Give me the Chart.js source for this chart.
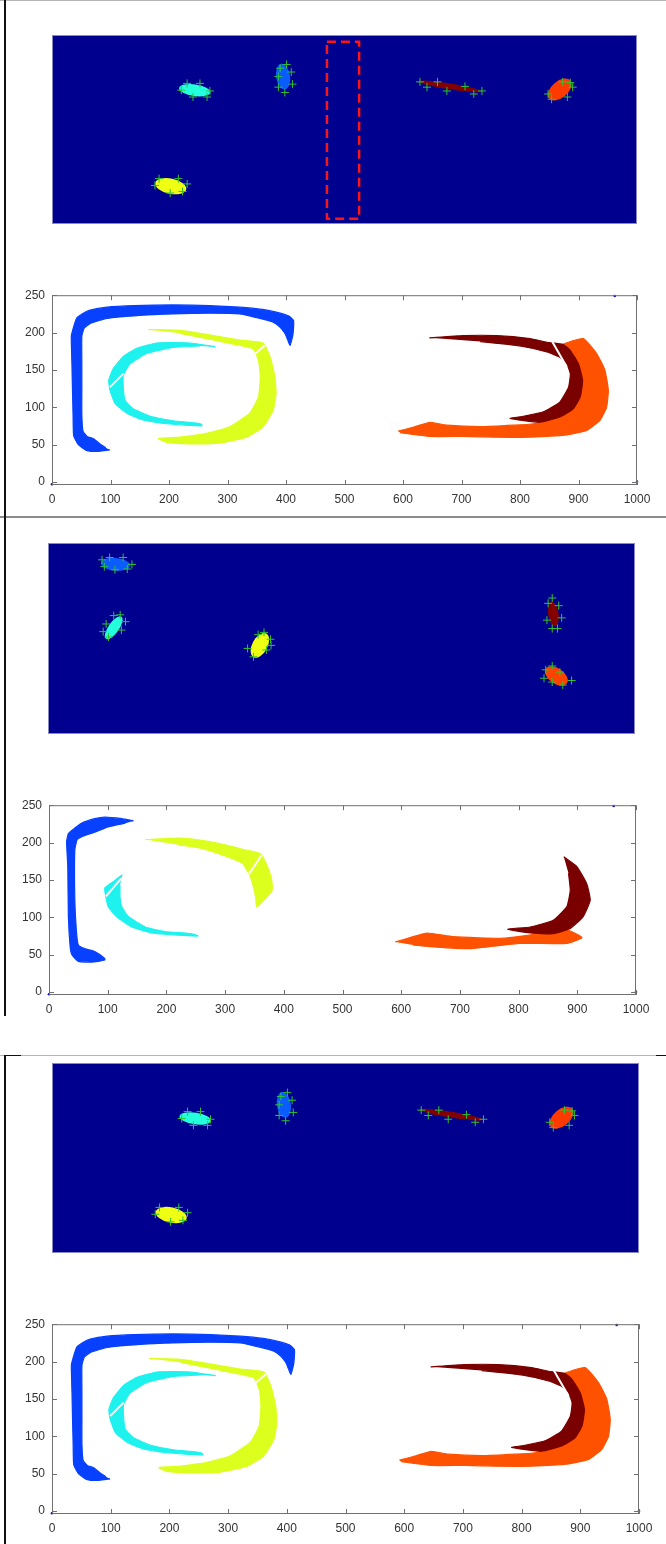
<!DOCTYPE html>
<html>
<head>
<meta charset="utf-8">
<script src="https://cdn.jsdelivr.net/npm/chart.js@4.4.0/dist/chart.umd.min.js"></script>
<style>
  html, body { margin: 0; padding: 0; background: #fff; }
  body { width: 666px; height: 1544px; position: relative; overflow: hidden; }
  .pane { position: absolute; }
  .rule { position: absolute; }
</style>
</head>
<body>
<!-- slide frames -->
<div class="rule" style="left:0;top:0;width:666px;height:1px;background:#b4b4b4"></div>
<div class="rule" style="left:4px;top:0;width:2px;height:517px;background:#111"></div>
<div class="rule" style="left:0;top:516px;width:666px;height:2px;background:#8c8c8c"></div>
<div class="rule" style="left:4px;top:516px;width:2px;height:500px;background:#111"></div>
<div class="rule" style="left:0;top:1055px;width:666px;height:1px;background:#b4b4b4"></div>
<div class="rule" style="left:4px;top:1055px;width:17px;height:1px;background:#111"></div>
<div class="rule" style="left:656px;top:1055px;width:10px;height:1px;background:#111"></div>
<div class="rule" style="left:4px;top:1055px;width:2px;height:489px;background:#111"></div>

<div class="pane" style="left:52px;top:35px"><canvas id="frameA" width="585" height="189"></canvas></div>
<div class="pane" style="left:0;top:281px"><canvas id="tracksA" width="660" height="230"></canvas></div>
<div class="pane" style="left:48px;top:543px"><canvas id="frameB" width="587" height="191"></canvas></div>
<div class="pane" style="left:0;top:791px"><canvas id="tracksB" width="660" height="230"></canvas></div>
<div class="pane" style="left:52px;top:1063px"><canvas id="frameC" width="587" height="190"></canvas></div>
<div class="pane" style="left:0;top:1310px"><canvas id="tracksC" width="662" height="230"></canvas></div>

<script>
// axis ticks of the track plots
const xTickValues = [0, 100, 200, 300, 400, 500, 600, 700, 800, 900, 1000];
const yTickValues = [0, 50, 100, 150, 200, 250];

// camera frames: blob = [x, row, semi-major, semi-minor, angle deg]
const frameA_cyanBlob   = [244, 73, 27, 10, 8];
const frameA_blueBlob   = [395, 55, 22, 12, 82];
const frameA_maroonBlob = [680, 68, 55, 5, 9];
const frameA_redBlob    = [868, 72, 24, 14, -40];
const frameA_yellowBlob = [203, 200, 27, 13, 12];
const frameA_crosses = [
  [231, 64], [253, 64], [270, 74], [241, 82], [265, 82], [221, 73],
  [401, 39], [409, 49], [387, 55], [411, 65], [387, 69], [398, 76], [390, 44],
  [629, 62], [641, 69], [659, 62], [675, 74], [706, 68], [721, 78], [735, 74],
  [873, 62], [886, 63], [848, 78], [854, 85], [881, 82], [890, 69],
  [183, 190], [216, 190], [176, 199], [231, 197], [202, 209], [223, 207]
];
const frameA_roi = [[470, 9], [525, 9], [525, 243], [470, 243], [470, 9]];

const frameB_blueBlob   = [115, 28, 25, 11, 5];
const frameB_cyanBlob   = [112, 111, 23, 9, -55];
const frameB_yellowBlob = [361, 134, 23, 13, -62];
const frameB_maroonBlob = [861, 93, 21, 9, 82];
const frameB_redBlob    = [866, 174, 22, 13, 35];
const frameB_crosses = [
  [105, 19], [128, 19], [92, 22], [96, 31], [114, 35], [135, 34], [143, 28],
  [112, 95], [123, 94], [132, 103], [99, 106], [94, 116], [103, 123], [125, 114],
  [358, 120], [368, 117], [379, 126], [380, 134], [340, 138], [350, 149], [372, 140],
  [859, 72], [852, 79], [870, 82], [850, 101], [875, 98], [859, 112], [868, 112],
  [859, 161], [848, 166], [845, 177], [859, 182], [877, 186], [892, 180], [872, 169]
];

// trajectory outlines (x, y) for the first / third plot
const trackA_blue = [[99, 43], [80, 41], [60, 42], [45, 50], [37, 62], [36, 90], [35, 123], [34, 160], [33, 195], [36, 205], [42, 219], [52, 225], [65, 230], [94, 234], [140, 236], [207, 237], [270, 236], [321, 234], [360, 231], [385, 227], [405, 222], [413, 216], [412, 198], [407, 183],
  [403, 190], [398, 199], [390, 207], [378, 214], [350, 220], [321, 225], [270, 226], [207, 225], [150, 223], [94, 219], [65, 212], [55, 206], [51, 195], [51, 160], [51, 123], [51, 90], [53, 68], [60, 61], [71, 58], [82, 51], [92, 46]];
const trackA_cyan = [[279, 181], [236, 186], [179, 186], [145, 179], [122, 168], [105, 152], [97, 136], [99, 123], [108, 105], [128, 92], [156, 83], [196, 78], [256, 75],
  [256, 77], [247, 79], [207, 82], [168, 88], [139, 98], [125, 109], [122, 125], [122, 143], [133, 158], [162, 172], [207, 180], [253, 182]];
const trackA_yellow = [[165, 204], [219, 203], [276, 196], [321, 190], [361, 186], [373, 167], [381, 141], [383, 118], [378, 96], [361, 74], [333, 60], [287, 52], [236, 51], [196, 53], [182, 58],
  [219, 60], [264, 65], [304, 74], [338, 92], [353, 114], [356, 141], [353, 163], [344, 178], [321, 183], [276, 190], [219, 199]];
const trackA_maroon = [[645, 193], [703, 196], [760, 196], [817, 192], [846, 187], [874, 184], [886, 176], [900, 158], [907, 136], [903, 114], [891, 98], [868, 87], [834, 80], [783, 85],
  [806, 88], [840, 94], [868, 107], [883, 127], [886, 145], [880, 158], [868, 167], [846, 174], [800, 182], [732, 188]];
const trackA_orange = [[592, 68], [620, 74], [646, 80], [675, 76], [732, 74], [789, 76], [823, 78], [860, 86], [884, 105], [890, 130], [888, 150], [880, 168], [871, 183],
  [908, 192], [931, 172], [945, 150], [951, 123], [948, 100], [937, 83], [914, 69], [880, 63], [817, 60], [760, 60], [703, 61], [646, 61], [595, 66]];
const trackA_gaps = [[[99, 127], [122, 145]], [[339, 166], [364, 183]], [[855, 188], [880, 154]]];

// trajectory outlines for the second plot
const trackB_blue = [[144, 229], [124, 232], [95, 234], [78, 232], [56, 226], [40, 217], [33, 212], [30, 201], [32, 168], [33, 101], [36, 61], [39, 50], [50, 41], [73, 40], [95, 43],
  [95, 45], [78, 54], [61, 58], [50, 63], [47, 79], [44, 123], [44, 190], [48, 204], [56, 208], [78, 214], [101, 221], [130, 226]];
const trackB_cyan = [[125, 157], [110, 148], [95, 139], [97, 127], [101, 114], [115, 101], [141, 87], [175, 79], [220, 76], [254, 75],
  [243, 78], [198, 81], [164, 87], [135, 101], [124, 114], [121, 127], [121, 143]];
const trackB_yellow = [[164, 204], [220, 206], [260, 203], [300, 197], [335, 190], [360, 185], [370, 172], [379, 152], [380, 136], [354, 114],
  [352, 127], [345, 150], [338, 162], [330, 172], [300, 182], [260, 192], [220, 197]];
const trackB_maroon = [[877, 181], [899, 168], [916, 145], [922, 123], [910, 101], [888, 85], [859, 78], [820, 79], [781, 84],
  [820, 87], [859, 96], [882, 114], [888, 136], [885, 159]];
const trackB_orange = [[590, 67], [615, 73], [644, 79], [689, 74], [774, 72], [831, 78], [866, 88], [908, 73], [882, 65], [802, 65], [717, 58], [660, 60], [620, 63]];
const trackB_gaps = [[[97, 128], [123, 152]], [[340, 157], [362, 183]]];

const cornerDots = [[962, 249], [0, -3], [1000, 0]];

const toXY = pts => pts.map(([x, y]) => ({ x, y }));

// blobs on the dark image, drawn under the crosses
function imagePlugin(blobs) {
  return {
    id: 'imageBg',
    beforeDatasetsDraw(chart) {
      const { ctx, chartArea: a, scales: { x, y } } = chart;
      const k = Math.abs(x.getPixelForValue(1) - x.getPixelForValue(0));
      ctx.save();
      ctx.fillStyle = '#00008f';
      ctx.fillRect(a.left, a.top, a.width, a.height);
      for (const [b, color] of blobs) {
        ctx.beginPath();
        ctx.ellipse(x.getPixelForValue(b[0]), y.getPixelForValue(b[1]), b[2] * k, b[3] * k, b[4] * Math.PI / 180, 0, Math.PI * 2);
        ctx.fillStyle = color;
        ctx.fill();
      }
      ctx.strokeStyle = '#8888c4';
      ctx.lineWidth = 1;
      ctx.strokeRect(a.left + 0.5, a.top + 0.5, a.width - 1, a.height - 1);
      ctx.restore();
    }
  };
}

// matlab style box with inward ticks on all sides
const boxPlugin = {
  id: 'matlabBox',
  afterDatasetsDraw(chart) {
    const { ctx, chartArea: a, scales: { x, y } } = chart;
    ctx.save();
    ctx.strokeStyle = '#707070';
    ctx.lineWidth = 1;
    ctx.strokeRect(a.left + 0.5, a.top + 0.5, a.width - 1, a.height - 1);
    ctx.beginPath();
    for (const v of xTickValues) {
      const px = Math.round(x.getPixelForValue(v)) + 0.5;
      ctx.moveTo(px, a.bottom); ctx.lineTo(px, a.bottom - 5);
      ctx.moveTo(px, a.top); ctx.lineTo(px, a.top + 5);
    }
    for (const v of yTickValues) {
      const py = Math.round(y.getPixelForValue(v)) + 0.5;
      ctx.moveTo(a.left, py); ctx.lineTo(a.left + 5, py);
      ctx.moveTo(a.right, py); ctx.lineTo(a.right - 5, py);
    }
    ctx.stroke();
    ctx.restore();
  }
};

const baseOptions = {
  responsive: false,
  animation: false,
  events: [],
  plugins: { legend: { display: false }, tooltip: { enabled: false } }
};

function makeFrame(id, blobs, crosses, roi) {
  const datasets = [{
    data: toXY(crosses),
    showLine: false,
    pointStyle: 'cross',
    pointRadius: 4,
    borderColor: '#2fc42f',
    borderWidth: 1
  }];
  if (roi) {
    datasets.push({
      data: toXY(roi),
      borderColor: '#ff1414',
      borderWidth: 2.5,
      borderDash: [9, 5],
      pointRadius: 0,
      fill: false
    });
  }
  new Chart(document.getElementById(id), {
    type: 'line',
    data: { datasets },
    options: {
      ...baseOptions,
      layout: { padding: 0, autoPadding: false },
      scales: {
        x: { type: 'linear', min: 0, max: 1000, display: false },
        y: { type: 'linear', min: 0, max: 250, reverse: true, display: false }
      }
    },
    plugins: [imagePlugin(blobs)]
  });
}

function makeTracks(id, tracks, gaps, yWidth, padRight) {
  const datasets = [];
  gaps.forEach(g => datasets.push({
    data: toXY(g), borderColor: '#ffffff', borderWidth: 2, pointRadius: 0, fill: false, order: 0
  }));
  datasets.push({
    data: toXY(cornerDots), showLine: false, pointRadius: 1.3, pointBorderWidth: 0,
    pointBackgroundColor: '#1010c0', clip: false, order: 0
  });
  tracks.forEach(([pts, color, order]) => datasets.push({
    data: toXY(pts), borderColor: color, backgroundColor: color, borderWidth: 1.2,
    pointRadius: 0, fill: 'shape', tension: 0.15, order
  }));
  const tickFont = { family: 'Liberation Sans', size: 12 };
  new Chart(document.getElementById(id), {
    type: 'line',
    data: { datasets },
    options: {
      ...baseOptions,
      // top inset comes from the y labels (half label + tick padding)
      layout: { padding: { top: 0, right: padRight, left: 0, bottom: 0 }, autoPadding: false },
      scales: {
        x: {
          type: 'linear', min: 0, max: 1000,
          afterBuildTicks: s => { s.ticks = xTickValues.map(v => ({ value: v })); },
          afterFit: s => { s.height = 26; },
          grid: { display: false, drawTicks: false },
          border: { display: false },
          ticks: { padding: 7, color: '#333', font: tickFont, maxRotation: 0, autoSkip: false, callback: v => String(v) }
        },
        y: {
          type: 'linear', min: -4, max: 250,
          afterBuildTicks: s => { s.ticks = yTickValues.map(v => ({ value: v })); },
          afterFit: s => { s.width = yWidth; },
          grid: { display: false, drawTicks: false },
          border: { display: false },
          ticks: { padding: 7, color: '#333', font: tickFont, callback: v => String(v) }
        }
      }
    },
    plugins: [boxPlugin]
  });
}

const blobsA = [
  [frameA_cyanBlob, '#24ffdc'], [frameA_blueBlob, '#0a5cff'], [frameA_maroonBlob, '#820000'],
  [frameA_redBlob, '#ff3a00'], [frameA_yellowBlob, '#eeff14']
];
const blobsB = [
  [frameB_blueBlob, '#0a5cff'], [frameB_cyanBlob, '#24ffdc'], [frameB_yellowBlob, '#eeff14'],
  [frameB_maroonBlob, '#820000'], [frameB_redBlob, '#ff4200']
];
const tracksA = [
  [trackA_blue, '#0840ff', 2], [trackA_cyan, '#1ef2ee', 2], [trackA_yellow, '#dcff1e', 2],
  [trackA_maroon, '#7a0000', 1], [trackA_orange, '#ff5200', 2]
];
const tracksB = [
  [trackB_blue, '#0840ff', 2], [trackB_cyan, '#1ef2ee', 2], [trackB_yellow, '#dcff1e', 2],
  [trackB_maroon, '#7a0000', 1], [trackB_orange, '#ff5200', 2]
];

makeFrame('frameA', blobsA, frameA_crosses, frameA_roi);
makeTracks('tracksA', tracksA, trackA_gaps, 52, 23);
makeFrame('frameB', blobsB, frameB_crosses, null);
makeTracks('tracksB', tracksB, trackB_gaps, 49, 24);
makeFrame('frameC', blobsA, frameA_crosses, null);
makeTracks('tracksC', tracksA, trackA_gaps, 52, 23);
</script>
</body>
</html>
